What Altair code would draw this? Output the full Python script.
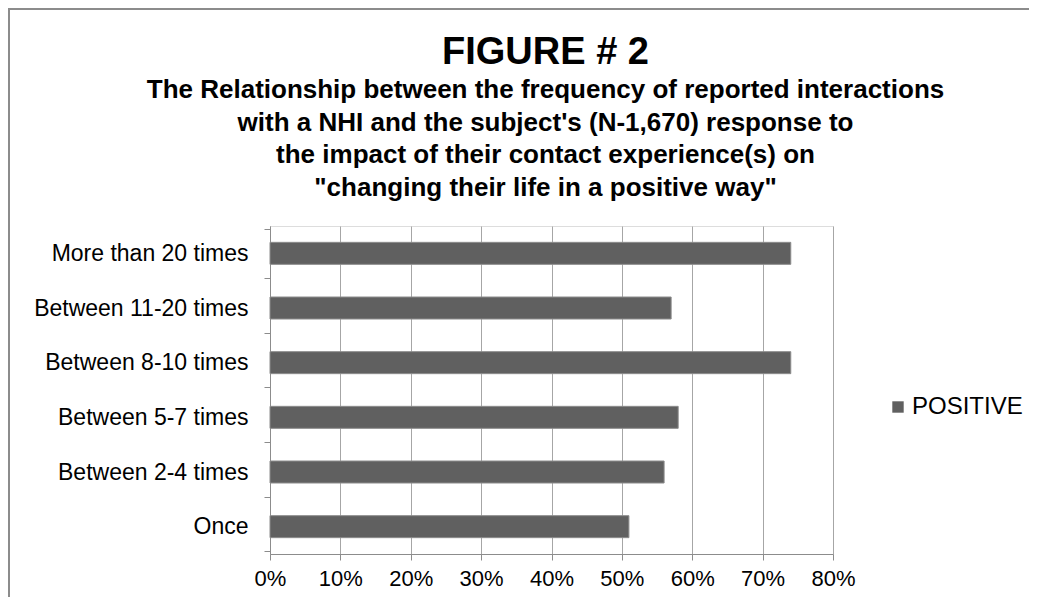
import altair as alt
import pandas as pd

categories = ["More than 20 times", "Between 11-20 times", "Between 8-10 times",
              "Between 5-7 times", "Between 2-4 times", "Once"]
positive = [0.74, 0.57, 0.74, 0.58, 0.56, 0.51]
series_name = "POSITIVE"
x_ticks = [0, 0.1, 0.2, 0.3, 0.4, 0.5, 0.6, 0.7, 0.8]

title_text = "FIGURE # 2"
subtitle_lines = [
    "The Relationship between the frequency of reported interactions",
    "with a NHI and the subject's (N-1,670) response to",
    "the impact of their contact experience(s) on",
    "\"changing their life in a positive way\"",
]

df = pd.DataFrame({"category": categories, "value": positive, "series": series_name})

W, H = 563, 328
PL, PT, PR, PB = 262, 218, 196, 43

bars = alt.Chart(df).mark_bar(size=22, stroke="#8c8c8c", strokeWidth=1).encode(
    y=alt.Y("category:N", sort=categories, title=None,
            axis=alt.Axis(labelFontSize=23, labelFont="Liberation Sans", labelColor="#000000",
                          labelPadding=16, tickBand="extent", tickSize=6, tickColor="#8c8c8c",
                          domainColor="#8c8c8c", grid=False, labelLimit=400)),
    x=alt.X("value:Q", title=None,
            scale=alt.Scale(domain=[0, 0.8], nice=False),
            axis=alt.Axis(values=x_ticks, format=".0%", labelFontSize=22,
                          labelFont="Liberation Sans", labelColor="#000000",
                          labelPadding=8, tickSize=6, tickColor="#8c8c8c",
                          domainColor="#8c8c8c", grid=True, gridColor="#a6a6a6",
                          gridWidth=1, labelFlush=False)),
    color=alt.Color("series:N", scale=alt.Scale(range=["#606060"]),
                    legend=alt.Legend(title=None, orient="none", legendX=616, legendY=169,
                                      symbolType="square", symbolSize=130, symbolStrokeWidth=0,
                                      labelFontSize=24, labelFont="Liberation Sans",
                                      labelColor="#000000", labelOffset=2)),
)

frame_df = pd.DataFrame({"k": [1]})
left_line = alt.Chart(frame_df).mark_rule(color="#8c8c8c", strokeWidth=2).encode(
    x=alt.value(-261), x2=alt.value(-261), y=alt.value(-217), y2=alt.value(H + PB)
)
top_line = alt.Chart(frame_df).mark_rule(color="#8c8c8c", strokeWidth=2).encode(
    x=alt.value(-262), x2=alt.value(W + PR), y=alt.value(-217), y2=alt.value(-217)
)

chart = alt.layer(bars, left_line, top_line).properties(
    width=W, height=H,
    autosize=alt.AutoSizeParams(type="none"),
    padding={"left": PL, "top": PT, "right": PR, "bottom": PB},
    title=alt.TitleParams(
        text=title_text, subtitle=subtitle_lines,
        anchor="middle", frame="group", dx=-6,
        font="Liberation Sans", fontSize=38, fontWeight="bold", color="#000000",
        subtitleFont="Liberation Sans", subtitleFontSize=26, subtitleFontWeight="bold",
        subtitleColor="#000000", subtitleLineHeight=32.7, subtitlePadding=5, offset=-193,
    ),
).configure_view(stroke=None).configure(background="#ffffff")

chart.save("out.html", embed_options={"renderer": "svg", "actions": False})
